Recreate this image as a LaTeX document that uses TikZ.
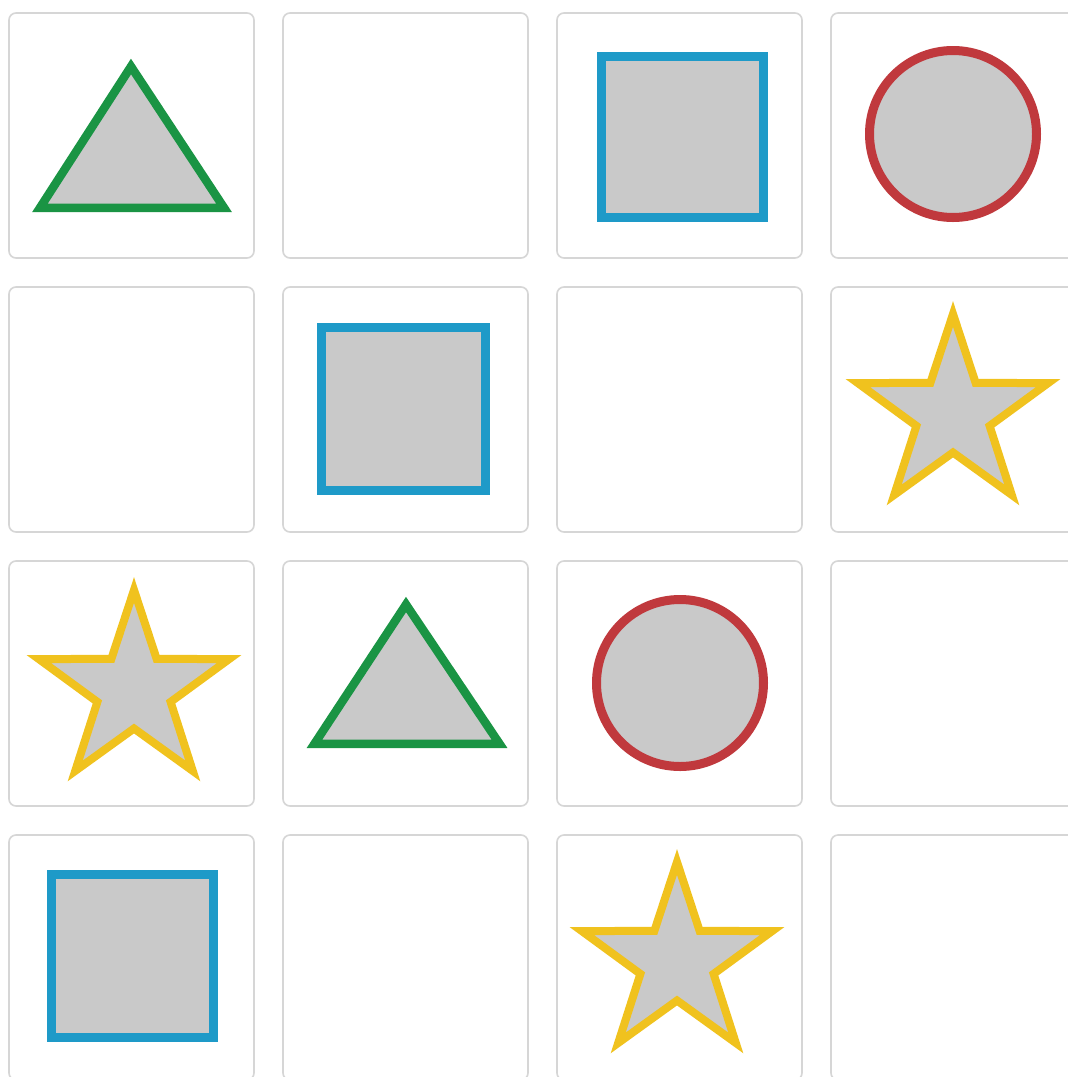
\documentclass[tikz,border=0pt]{standalone}
\begin{document}
\begin{tikzpicture}[x=1pt,y=-1pt,
  cellbox/.style={draw=black!16,line width=1.6pt,fill=white,rounded corners=7pt},
  shapefill/.style={fill=shapegray,line join=miter},
  tri/.style={shapefill,draw=trigreen,line width=8.5pt},
  sqr/.style={shapefill,draw=sqblue,line width=9pt},
  circ/.style={shapefill,draw=circred,line width=9pt},
  starshape/.style={shapefill,draw=staryellow,line width=8pt,miter limit=10}]
\definecolor{shapegray}{HTML}{C9C9C9}
\definecolor{trigreen}{HTML}{1A9444}
\definecolor{sqblue}{HTML}{1E9AC8}
\definecolor{circred}{HTML}{C0393D}
\definecolor{staryellow}{HTML}{F0C21E}
\useasboundingbox (0,0) rectangle (1068,1077);
\fill[white] (0,0) rectangle (1068,1077);
% cells
\foreach \c in {0,1,2,3}{
  \foreach \r in {0,1,2,3}{
    \draw[cellbox] (9+274*\c,13+274*\r) rectangle ++(245,245);
  }
}
% row 1
\draw[tri] (131,66.5) -- (224,207.75) -- (40,207.75) -- cycle;
\draw[sqr] (601.5,56.5) rectangle (763.5,217.5);
\draw[circ] (953,134) circle (83.5);
% row 2
\draw[sqr] (321.5,327.5) rectangle (485.5,490.5);
% row 3
\draw[tri] (406,604.5) -- (499.5,743.75) -- (314.5,743.75) -- cycle;
\draw[circ] (680,683) circle (83.5);
% row 4
\draw[sqr] (51.5,874.5) rectangle (213.5,1037.5);
% stars
\foreach \cx/\cy in {953/414, 134/690, 677/962}{
  \begin{scope}[shift={(\cx,\cy)}]
    \draw[starshape] (270:100) -- (306:38.5) -- (342:100) -- (18:38.5) -- (54:100)
      -- (90:38.5) -- (126:100) -- (162:38.5) -- (198:100) -- (234:38.5) -- cycle;
  \end{scope}
}
\end{tikzpicture}
\end{document}
